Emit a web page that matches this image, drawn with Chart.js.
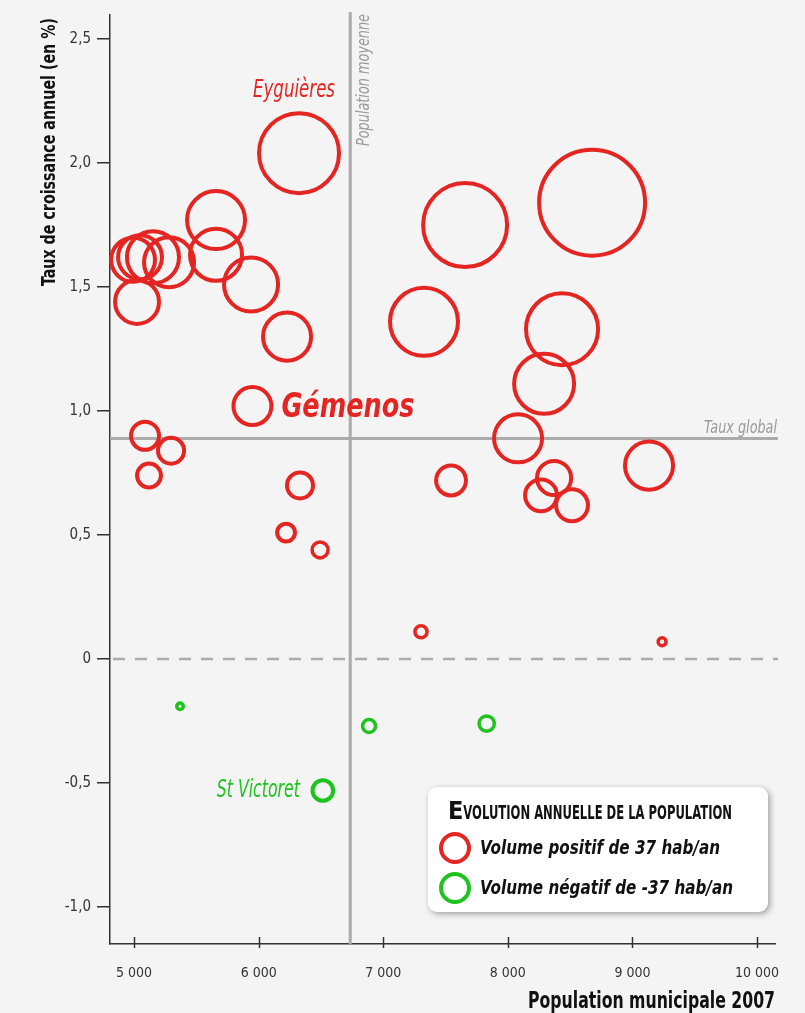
<!DOCTYPE html>
<html>
<head>
<meta charset="utf-8">
<title>Population municipale 2007</title>
<script src="https://cdn.jsdelivr.net/npm/chart.js@4.4.1/dist/chart.umd.min.js"></script>
<style>
  html, body { margin: 0; padding: 0; background: #f4f4f4; }
  #wrap { width: 805px; height: 1013px; }
</style>
</head>
<body>
<div id="wrap"><canvas id="chart"></canvas></div>
<script>
// ===== Data =====
const communes = ['Eyguières', '', '', '', '', '', '', '', '', '', '', '', 'Gémenos', '', '', '', '',
  '', '', '', '', '', '', '', '', '', '', '', '', '', '', '', '', 'St Victoret'];
const population = [6324, 8676, 7657, 5658, 5658, 4992, 5048, 5152, 5281, 5024, 5939, 6228, 5950, 5088, 5297, 5120, 6332,
  7327, 8435, 8291, 8082, 9133, 8371, 8266, 8515, 7544, 7303, 9238, 6220, 6493, 5369, 6886, 7830, 6515];
const tauxCroissance = [2.04, 1.84, 1.75, 1.77, 1.63, 1.61, 1.62, 1.62, 1.60, 1.44, 1.51, 1.30, 1.02, 0.90, 0.84, 0.74, 0.70,
  1.36, 1.33, 1.11, 0.89, 0.78, 0.73, 0.66, 0.62, 0.72, 0.11, 0.07, 0.51, 0.44, -0.19, -0.27, -0.26, -0.53];
// evolution annuelle (hab/an)
const volume = [302, 530, 333, 159, 128, 91, 91, 128, 118, 91, 138, 109, 68, 37, 32, 27, 32,
  218, 245, 170, 109, 109, 55, 48, 48, 42, 7, 3, 15, 12, -2, -8, -11, -20];

const populationMoyenne = 6735;
const tauxGlobal = 0.889;
const volumeLegende = 37;

const xTicks = [5000, 6000, 7000, 8000, 9000, 10000];
const yTicks = [-1, -0.5, 0, 0.5, 1, 1.5, 2, 2.5];

// ===== Styles =====
const RED = '#e42522';
const GREEN = '#1ec41e';
const GREY = '#ababab';
const NARROW = '"Liberation Sans Narrow", "DejaVu Sans Condensed", "Liberation Sans", sans-serif';
const R_LEGEND = 14;   // rayon du cercle de légende (37 hab/an)

const radiusFor = v => R_LEGEND * Math.sqrt(Math.abs(v) / volumeLegende);

const positifs = [], negatifs = [];
population.forEach((p, i) => {
  const pt = {x: p, y: tauxCroissance[i], r: radiusFor(volume[i]), name: communes[i]};
  (volume[i] >= 0 ? positifs : negatifs).push(pt);
});

const labelStyle = {
  'Eyguières':   {font: 'italic 25px ' + NARROW, color: RED, dx: -5, dy: -56, align: 'center', maxW: 82},
  'Gémenos':     {font: 'bold italic 34px ' + NARROW, color: RED, dx: 29, dy: 11, align: 'left', maxW: 133},
  'St Victoret': {font: 'italic 24px ' + NARROW, color: GREEN, dx: -23, dy: 7, align: 'right', maxW: 83}
};

// ===== Decorations =====
const decor = {
  id: 'decor',
  beforeDraw(chart) {
    const {ctx, width, height} = chart;
    ctx.save();
    ctx.fillStyle = '#f4f4f4';
    ctx.fillRect(0, 0, width, height);
    ctx.restore();
  },
  beforeDatasetsDraw(chart) {
    const {ctx, chartArea: ca, scales: {x, y}} = chart;
    ctx.save();
    // zero line
    const y0 = y.getPixelForValue(0);
    ctx.strokeStyle = GREY;
    ctx.lineWidth = 2.5;
    ctx.setLineDash([12, 10]);
    ctx.beginPath(); ctx.moveTo(ca.left + 3, y0); ctx.lineTo(ca.right + 3, y0); ctx.stroke();
    ctx.setLineDash([]);
    // taux global
    const yg = y.getPixelForValue(tauxGlobal);
    ctx.lineWidth = 3;
    ctx.beginPath(); ctx.moveTo(ca.left, yg); ctx.lineTo(ca.right + 3, yg); ctx.stroke();
    // population moyenne
    const xm = x.getPixelForValue(populationMoyenne);
    ctx.beginPath(); ctx.moveTo(xm, ca.top - 3); ctx.lineTo(xm, ca.bottom); ctx.stroke();

    ctx.fillStyle = '#999';
    ctx.font = 'italic 17px ' + NARROW;
    ctx.textAlign = 'right';
    ctx.textBaseline = 'alphabetic';
    ctx.fillText('Taux global', ca.right + 2, yg - 6, 73);
    ctx.translate(xm + 19, ca.top - 1);
    ctx.rotate(-Math.PI / 2);
    ctx.fillText('Population moyenne', 0, 0, 132);
    ctx.restore();
  },
  afterDraw(chart) {
    const {ctx, chartArea: ca, scales: {x}} = chart;
    ctx.save();
    // x tick marks (inward)
    ctx.strokeStyle = '#333';
    ctx.lineWidth = 1.5;
    xTicks.forEach(v => {
      const px = Math.round(x.getPixelForValue(v)) + 0.5;
      ctx.beginPath(); ctx.moveTo(px, ca.bottom - 7); ctx.lineTo(px, ca.bottom + 4); ctx.stroke();
    });

    // axis titles
    ctx.fillStyle = '#111';
    ctx.textBaseline = 'alphabetic';
    ctx.textAlign = 'right';
    ctx.font = 'bold 23px ' + NARROW;
    ctx.fillText('Population municipale 2007', ca.right, 1008, 247);
    ctx.save();
    ctx.translate(55, ca.top + 3);
    ctx.rotate(-Math.PI / 2);
    ctx.font = 'bold 20px ' + NARROW;
    ctx.fillText('Taux de croissance annuel (en %)', 0, 0, 268);
    ctx.restore();

    // point labels
    chart.data.datasets.forEach((ds, di) => {
      chart.getDatasetMeta(di).data.forEach((el, j) => {
        const st = labelStyle[ds.data[j].name];
        if (!st) return;
        ctx.font = st.font;
        ctx.fillStyle = st.color;
        ctx.textAlign = st.align;
        ctx.textBaseline = 'alphabetic';
        ctx.fillText(ds.data[j].name, el.x + st.dx, el.y + st.dy, st.maxW);
      });
    });

    // legend box
    const bx = 428, by = 787, bw = 340, bh = 125;
    ctx.save();
    ctx.shadowColor = 'rgba(0,0,0,0.35)';
    ctx.shadowBlur = 6;
    ctx.shadowOffsetX = 2;
    ctx.shadowOffsetY = 2;
    ctx.fillStyle = '#ffffff';
    ctx.beginPath();
    ctx.roundRect(bx, by, bw, bh, 9);
    ctx.fill();
    ctx.restore();

    ctx.fillStyle = '#111';
    ctx.textAlign = 'left';
    ctx.textBaseline = 'alphabetic';
    ctx.font = 'bold 25px ' + NARROW;
    const eW = ctx.measureText('E').width;
    ctx.fillText('E', bx + 20, by + 32);
    ctx.font = 'bold 19px ' + NARROW;
    ctx.fillText('VOLUTION ANNUELLE DE LA POPULATION', bx + 20 + eW, by + 32, 284 - eW);

    const items = [
      {color: RED, text: 'Volume positif de ' + volumeLegende + ' hab/an', w: 240},
      {color: GREEN, text: 'Volume négatif de -' + volumeLegende + ' hab/an', w: 253}
    ];
    items.forEach((it, k) => {
      const cy = by + 61 + k * 40;
      ctx.strokeStyle = it.color;
      ctx.lineWidth = 4;
      ctx.beginPath(); ctx.arc(bx + 27, cy, R_LEGEND, 0, Math.PI * 2); ctx.stroke();
      ctx.fillStyle = '#111';
      ctx.font = 'bold italic 20px ' + NARROW;
      ctx.fillText(it.text, bx + 52, cy + 6, it.w);
    });
    ctx.restore();
  }
};

// ===== Chart =====
const ctx = document.getElementById('chart').getContext('2d');
new Chart(ctx, {
  type: 'bubble',
  data: {
    datasets: [
      {label: 'Volume positif', data: positifs, borderColor: RED, backgroundColor: 'rgba(0,0,0,0)',
       borderWidth: c => (c.raw && c.raw.r < 8 ? 3.5 : 4)},
      {label: 'Volume négatif', data: negatifs, borderColor: GREEN, backgroundColor: 'rgba(0,0,0,0)',
       borderWidth: c => (c.raw && c.raw.r < 8 ? 3.5 : 4)}
    ]
  },
  options: {
    responsive: true,
    maintainAspectRatio: false,
    animation: false,
    clip: false,
    layout: {autoPadding: false, padding: {left: 0, top: 13, right: 30, bottom: 0}},
    plugins: {legend: {display: false}, tooltip: {enabled: false}},
    scales: {
      x: {
        type: 'linear',
        min: 4807, max: 10144,
        afterFit: s => { s.height = 69; },
        afterBuildTicks: s => { s.ticks = xTicks.map(v => ({value: v})); },
        grid: {drawOnChartArea: false, drawTicks: false},
        border: {color: '#333', width: 1.5},
        ticks: {
          padding: 21, color: '#333', maxRotation: 0,
          font: {family: NARROW, size: 14},
          callback: v => String(v).replace(/\B(?=(\d{3})+(?!\d))/g, ' ')
        }
      },
      y: {
        type: 'linear',
        min: -1.149, max: 2.597,
        afterFit: s => { s.width = 110; },
        afterBuildTicks: s => { s.ticks = yTicks.map(v => ({value: v})); },
        grid: {drawOnChartArea: false, drawTicks: true, tickLength: 13, color: '#333', lineWidth: 1.5},
        border: {color: '#333', width: 1.5},
        ticks: {
          padding: 6, color: '#333',
          font: {family: NARROW, size: 15},
          callback: v => (v === 0 ? '0' : v.toFixed(1).replace('.', ','))
        }
      }
    }
  },
  plugins: [decor]
});
</script>
</body>
</html>
